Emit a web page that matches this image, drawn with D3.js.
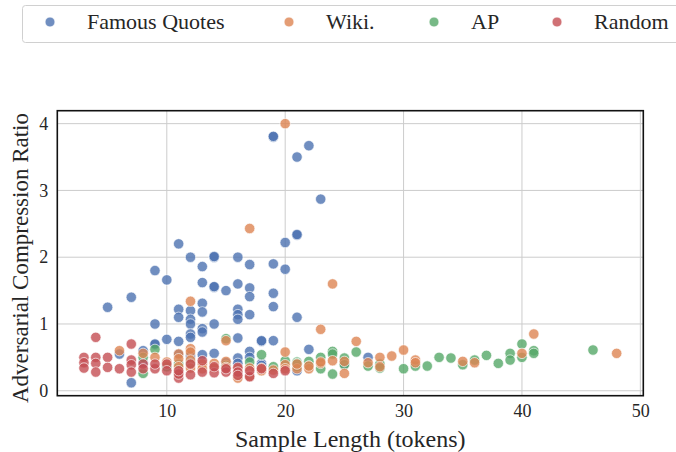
<!DOCTYPE html>
<html>
<head>
<meta charset="utf-8">
<script src="https://cdn.jsdelivr.net/npm/d3@7"></script>
<style>
  body { margin: 0; background: #fff; }
  text { font-family: "Liberation Serif", "DejaVu Serif", serif; fill: #262626; }
</style>
</head>
<body>
<div id="chart"></div>
<script>
const width = 676;
const height = 452;

// data: [sample length, compression ratio]
const famousQuotes = [[19,3.80],[19,3.81],[22,3.67],[21,3.50],[23,2.87],[21,2.33],[21,2.34],[20,2.22],[11,2.20],
  [12,2.00],[14,2.00],[14,2.01],[16,2.00],[13,1.86],[17,1.89],[19,1.90],[20,1.82],[9,1.80],[10,1.66],[13,1.62],
  [14,1.55],[14,1.56],[15,1.50],[16,1.60],[17,1.54],[19,1.46],[17,1.41],[7,1.40],[5,1.25],[11,1.22],[11,1.10],
  [12,1.20],[12,1.07],[13,1.31],[13,1.18],[16,1.22],[16,1.14],[16,1.07],[17,1.14],[19,1.26],[21,1.10],[9,1.00],
  [12,1.00],[14,1.00],[13,0.93],[13,0.88],[12,0.85],[12,0.80],[10,0.77],[11,0.74],[9,0.69],[16,0.79],[18,0.74],
  [18,0.75],[19,0.75],[22,0.62],[6,0.55],[7,0.12],[8,0.60],[9,0.70],[11,0.55],[13,0.54],[14,0.56],[16,0.49],
  [16,0.41],[17,0.59],[17,0.50],[18,0.41],[18,0.38],[21,0.30],[27,0.50],[25,0.40],[15,0.42],[12,0.52],[8,0.42]];
const wiki = [[20,4.00],[17,2.43],[24,1.60],[12,1.34],[23,0.92],[15,0.75],[26,0.74],[41,0.85],[6,0.60],[8,0.56],
  [9,0.50],[11,0.55],[11,0.48],[11,0.36],[11,0.26],[12,0.63],[12,0.58],[12,0.46],[12,0.34],[13,0.40],[14,0.41],
  [14,0.34],[15,0.44],[15,0.35],[16,0.19],[16,0.33],[17,0.34],[17,0.22],[18,0.30],[19,0.31],[20,0.58],[20,0.39],
  [20,0.33],[21,0.33],[22,0.33],[22,0.37],[23,0.41],[23,0.43],[24,0.45],[25,0.44],[25,0.26],[27,0.42],[28,0.50],
  [28,0.36],[29,0.52],[30,0.61],[31,0.46],[31,0.42],[35,0.44],[36,0.42],[40,0.56],[48,0.56],[10,0.43],[13,0.33],
  [18,0.34],[21,0.40]];
const ap = [[15,0.78],[18,0.54],[24,0.59],[24,0.55],[24,0.25],[22,0.44],[22,0.37],[23,0.50],[23,0.33],[21,0.43],
  [21,0.36],[21,0.41],[26,0.58],[8,0.26],[8,0.50],[9,0.62],[10,0.36],[11,0.40],[12,0.42],[15,0.38],[17,0.43],
  [19,0.36],[20,0.45],[25,0.49],[25,0.39],[27,0.37],[28,0.40],[28,0.34],[30,0.33],[31,0.37],[32,0.37],[33,0.50],
  [34,0.49],[35,0.39],[36,0.46],[37,0.53],[38,0.41],[39,0.56],[39,0.46],[40,0.70],[40,0.50],[41,0.60],[41,0.56],
  [46,0.61]];
const random = [[4,0.80],[3,0.50],[3,0.42],[3,0.34],[4,0.50],[4,0.41],[4,0.28],[5,0.50],[5,0.35],[6,0.33],
  [7,0.70],[7,0.46],[7,0.39],[7,0.28],[8,0.40],[8,0.33],[9,0.33],[9,0.40],[10,0.40],[10,0.30],[11,0.19],[11,0.25],
  [11,0.30],[12,0.24],[12,0.40],[13,0.45],[13,0.28],[14,0.27],[14,0.36],[15,0.28],[15,0.33],[16,0.35],[16,0.28],
  [17,0.21],[17,0.30],[18,0.33],[19,0.26],[20,0.30],[16,0.23]];

const seriesNames = ["Famous Quotes", "Wiki.", "AP", "Random"];
const seriesColors = ["#4C72B0", "#DD8452", "#55A868", "#C44E52"];
const xTicks = [10, 20, 30, 40, 50];
const yTicks = [0, 1, 2, 3, 4];

const allSeries = [famousQuotes, wiki, ap, random];
const drawOrder = [0, 2, 1, 3];

const plot = { left: 57.3, right: 643.3, top: 110.7, bottom: 395.7 };

const svg = d3.select("#chart").append("svg")
    .attr("width", width)
    .attr("height", height);

// matplotlib-style 5% margins around the data
const allPts = allSeries.flat();
const xExt = d3.extent(allPts, d => d[0]);
const yExt = d3.extent(allPts, d => d[1]);
const xPad = (xExt[1] - xExt[0]) * 0.05;
const yPad = (yExt[1] - yExt[0]) * 0.05;

const x = d3.scaleLinear().domain([xExt[0] - xPad, xExt[1] + xPad]).range([plot.left, plot.right]);
const y = d3.scaleLinear().domain([yExt[0] - yPad, yExt[1] + yPad]).range([plot.bottom, plot.top]);

// grid
const grid = svg.append("g");
grid.selectAll(".gx").data(xTicks.filter(t => x(t) < plot.right - 1)).enter().append("line")
    .attr("x1", d => x(d)).attr("x2", d => x(d))
    .attr("y1", plot.top).attr("y2", plot.bottom)
    .attr("stroke", "#cccccc").attr("stroke-width", 1);
grid.selectAll(".gy").data(yTicks).enter().append("line")
    .attr("y1", d => y(d)).attr("y2", d => y(d))
    .attr("x1", plot.left).attr("x2", plot.right)
    .attr("stroke", "#cccccc").attr("stroke-width", 1);

// points
const pts = svg.append("g");
drawOrder.forEach(i => {
    pts.selectAll(".s" + i).data(allSeries[i]).enter().append("circle")
        .attr("cx", d => x(d[0]))
        .attr("cy", d => y(d[1]))
        .attr("r", 5.2)
        .attr("fill", seriesColors[i])
        .attr("fill-opacity", 0.8)
        .attr("stroke", "#ffffff")
        .attr("stroke-opacity", 0.8)
        .attr("stroke-width", 0.8);
});

// frame
svg.append("rect")
    .attr("x", plot.left).attr("y", plot.top)
    .attr("width", plot.right - plot.left).attr("height", plot.bottom - plot.top)
    .attr("fill", "none").attr("stroke", "#111").attr("stroke-width", 1.6);

// axes (labels only, seaborn whitegrid has no tick marks)
const xAxis = svg.append("g")
    .attr("transform", `translate(0,${plot.bottom})`)
    .call(d3.axisBottom(x).tickValues(xTicks).tickFormat(d3.format("d")).tickSize(0).tickPadding(9));
const yAxis = svg.append("g")
    .attr("transform", `translate(${plot.left},0)`)
    .call(d3.axisLeft(y).tickValues(yTicks).tickFormat(d3.format("d")).tickSize(0).tickPadding(9));
[xAxis, yAxis].forEach(a => {
    a.select(".domain").remove();
    a.selectAll("text").style("font-family", "Liberation Serif").style("font-size", "18px").attr("fill", "#262626");
});

svg.append("text")
    .attr("x", (plot.left + plot.right) / 2)
    .attr("y", 447)
    .attr("text-anchor", "middle")
    .style("font-size", "24px")
    .text("Sample Length (tokens)");

svg.append("text")
    .attr("transform", `translate(28,258) rotate(-90)`)
    .attr("text-anchor", "middle")
    .style("font-size", "23px")
    .text("Adversarial Compression Ratio");

// legend
const legend = svg.append("g");
legend.append("rect")
    .attr("x", 22.5).attr("y", 5.5).attr("width", 680).attr("height", 37)
    .attr("rx", 3).attr("fill", "#fff").attr("stroke", "#d0d0d0");
const legendX = [50, 289, 434, 557];
seriesNames.forEach((name, i) => {
    legend.append("circle")
        .attr("cx", legendX[i]).attr("cy", 22).attr("r", 5)
        .attr("fill", seriesColors[i]).attr("fill-opacity", 0.8)
        .attr("stroke", "#fff").attr("stroke-width", 0.8);
    legend.append("text")
        .attr("x", legendX[i] + 37).attr("y", 29)
        .style("font-size", "22px")
        .text(name);
});
</script>
</body>
</html>
